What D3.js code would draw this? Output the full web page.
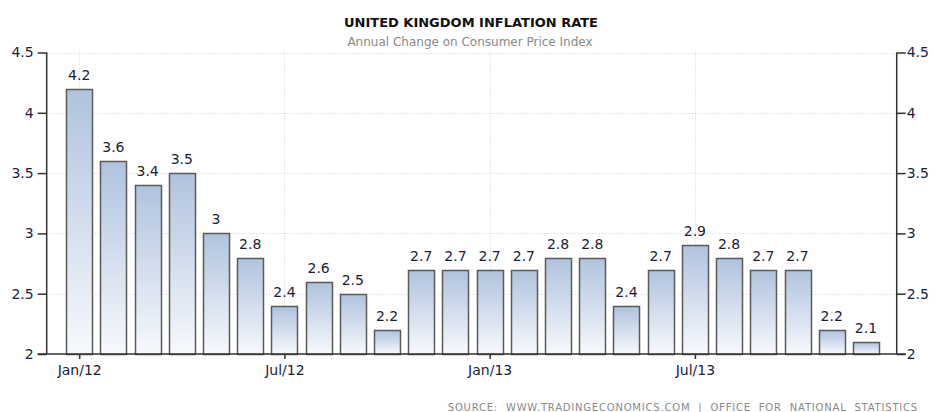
<!DOCTYPE html>
<html><head><meta charset="utf-8">
<script src="https://cdn.jsdelivr.net/npm/d3@7"></script>
<style>
body{margin:0;background:#fff;}
svg{display:block;font-family:"DejaVu Sans",sans-serif;}
</style></head><body>
<svg id="c" width="935" height="412"></svg>
<script>
const months = ["Jan/12","Feb/12","Mar/12","Apr/12","May/12","Jun/12","Jul/12","Aug/12","Sep/12","Oct/12","Nov/12","Dec/12",
"Jan/13","Feb/13","Mar/13","Apr/13","May/13","Jun/13","Jul/13","Aug/13","Sep/13","Oct/13","Nov/13","Dec/13"];
const values = [4.2,3.6,3.4,3.5,3,2.8,2.4,2.6,2.5,2.2,2.7,2.7,2.7,2.7,2.8,2.8,2.4,2.7,2.9,2.8,2.7,2.7,2.2,2.1];
const yTicks = [2,2.5,3,3.5,4,4.5];
const xTickLabels = ["Jan/12","Jul/12","Jan/13","Jul/13"];
const title = "UNITED KINGDOM INFLATION RATE";
const subtitle = "Annual Change on Consumer Price Index";
const source = "SOURCE:  WWW.TRADINGECONOMICS.COM  |  OFFICE  FOR  NATIONAL  STATISTICS";

const svg = d3.select("#c");
const L = 46.7, R = 896.7, T = 52.5, B = 354;
const x = d3.scaleLinear().domain([-0.95, 23.9]).range([L, R]);
const y = d3.scaleLinear().domain([2, 4.5]).range([B, T]);
const barW = 26;

const defs = svg.append("defs");
const g = defs.append("linearGradient").attr("id","bg").attr("x1",0).attr("y1",0).attr("x2",0).attr("y2",1);
g.append("stop").attr("offset","0%").attr("stop-color","#b0c3de");
g.append("stop").attr("offset","100%").attr("stop-color","#f7f9fd");

// grid
const grid = svg.append("g");
grid.selectAll("line.h").data(yTicks.filter(d=>d>2)).join("line")
  .attr("x1",L).attr("x2",R).attr("y1",d=>Math.round(y(d))+0.5).attr("y2",d=>Math.round(y(d))+0.5)
  .attr("stroke","#d0d0d0").attr("stroke-dasharray","1,2");
const tickIdx = xTickLabels.map(l=>months.indexOf(l));
grid.selectAll("line.v").data(tickIdx).join("line")
  .attr("x1",d=>Math.round(x(d))+0.5).attr("x2",d=>Math.round(x(d))+0.5).attr("y1",T).attr("y2",B)
  .attr("stroke","#d0d0d0").attr("stroke-dasharray","1,2");

// bars
svg.append("g").selectAll("rect").data(values).join("rect")
  .attr("x",(d,i)=>Math.round(x(i)-barW/2)+0.5)
  .attr("y",d=>Math.round(y(d))+0.5)
  .attr("width",barW)
  .attr("height",d=>B-Math.round(y(d)))
  .attr("fill","url(#bg)").attr("stroke","#5a5a5a").attr("stroke-width",1.5);

// value labels
svg.append("g").selectAll("text").data(values).join("text")
  .attr("x",(d,i)=>x(i)).attr("y",d=>y(d)-9)
  .attr("text-anchor","middle").attr("font-size",14).attr("fill","#221c33")
  .text(d=>d);

// axes
const axisColor = "#333";
const yl = svg.append("g").attr("transform",`translate(${L},0)`)
  .call(d3.axisLeft(y).tickValues(yTicks).tickSize(9).tickPadding(4).tickFormat(d3.format("")));
const yr = svg.append("g").attr("transform",`translate(${R},0)`)
  .call(d3.axisRight(y).tickValues(yTicks).tickSize(9).tickPadding(1).tickFormat(d3.format("")));
const xa = svg.append("g").attr("transform",`translate(0,${B})`)
  .call(d3.axisBottom(x).tickValues(tickIdx).tickSize(5).tickPadding(6).tickFormat(i=>months[i]));
[yl,yr,xa].forEach(a=>{
  a.select(".domain").remove();
  a.selectAll("line").attr("stroke",axisColor).attr("stroke-width",1.5);
  a.selectAll("text").attr("font-size",14).attr("fill","#221c40").attr("font-family","DejaVu Sans, sans-serif");
});
svg.append("line").attr("x1",L).attr("x2",L).attr("y1",T).attr("y2",B).attr("stroke",axisColor).attr("stroke-width",1.5);
svg.append("line").attr("x1",R).attr("x2",R).attr("y1",T).attr("y2",B).attr("stroke",axisColor).attr("stroke-width",1.5);
svg.append("line").attr("x1",L-9).attr("x2",R+9).attr("y1",B).attr("y2",B).attr("stroke",axisColor).attr("stroke-width",1.5);

// titles
svg.append("text").attr("x",471).attr("y",27).attr("text-anchor","middle")
  .attr("font-size",13).attr("font-weight","bold").attr("fill","#111").text(title);
svg.append("text").attr("x",470).attr("y",46).attr("text-anchor","middle")
  .attr("font-size",12).attr("fill","#8a8a8a").text(subtitle);
svg.append("text").attr("x",918).attr("y",411).attr("text-anchor","end")
  .attr("font-size",10).attr("fill","#8a8a8a").attr("letter-spacing",0.8)
  .style("white-space","pre").text(source);
</script>
</body></html>
